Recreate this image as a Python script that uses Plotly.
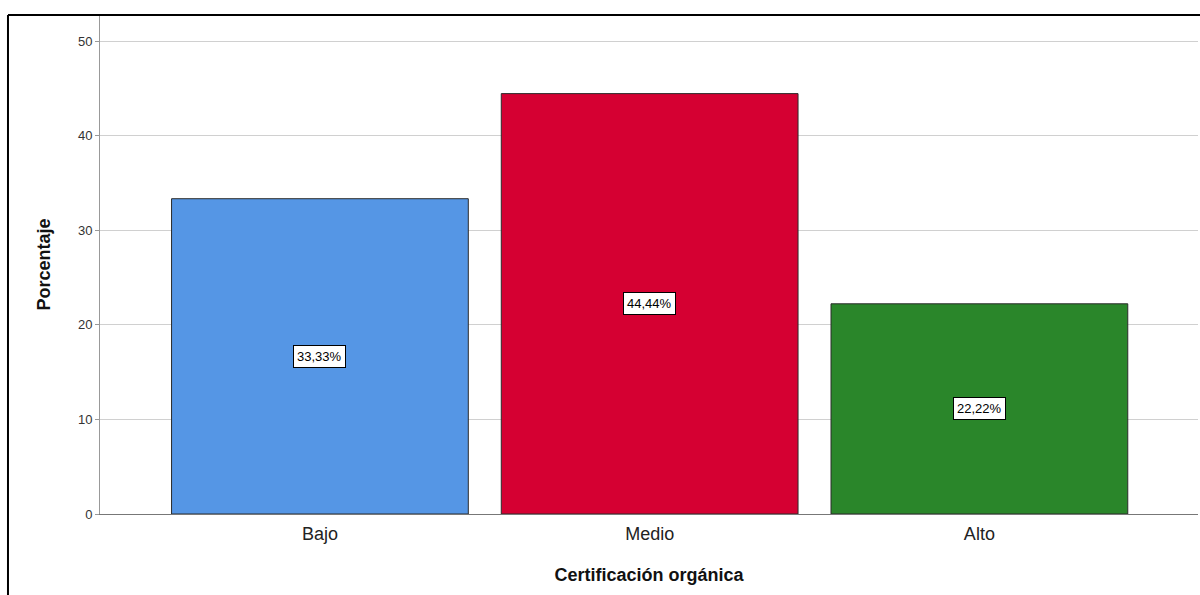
import plotly.graph_objects as go

categorias = ["Bajo", "Medio", "Alto"]
porcentajes = [33.33, 44.44, 22.22]
etiquetas = ["33,33%", "44,44%", "22,22%"]
colores = ["#5596E5", "#D50032", "#2A862A"]
ticks_y = [0, 10, 20, 30, 40, 50]

fig = go.Figure(go.Bar(
    x=categorias, y=porcentajes,
    width=0.9,
    marker=dict(color=colores, line=dict(color="#2b2b2b", width=1)),
    hoverinfo="x+y",
))

# etiquetas con recuadro blanco en el centro de cada barra
for cat, val, txt in zip(categorias, porcentajes, etiquetas):
    fig.add_annotation(
        x=cat, y=val / 2, text=txt, showarrow=False,
        font=dict(family="Arial, Liberation Sans", size=13, color="#000000"),
        bgcolor="white", bordercolor="#000000", borderwidth=1, borderpad=3,
    )

# marco exterior (estilo SPSS)
fig.add_shape(type="line", xref="paper", yref="paper",
              x0=-0.0838, x1=1.05, y0=1.0, y1=1.0,
              line=dict(color="#000000", width=2))
fig.add_shape(type="line", xref="paper", yref="paper",
              x0=-0.0838, x1=-0.0838, y0=-0.2, y1=1.0,
              line=dict(color="#000000", width=2))

fig.update_layout(
    width=1200, height=595,
    paper_bgcolor="white", plot_bgcolor="white",
    margin=dict(l=100, r=2, t=15, b=81),
    font=dict(family="Arial, Liberation Sans", color="#222222"),
    showlegend=False,
    xaxis=dict(
        range=[-0.667, 2.663],
        showgrid=False,
        showline=True, linecolor="#777777", linewidth=1,
        ticks="outside", ticklen=3, tickcolor="rgba(0,0,0,0)",
        tickfont=dict(size=18, color="#222222"),
        title=dict(text="<b>Certificación orgánica</b>", font=dict(size=18, color="#111111"), standoff=25),
    ),
    yaxis=dict(
        range=[0, 52.75],
        tickvals=ticks_y,
        showgrid=True, gridcolor="#d0d0d0", gridwidth=1,
        showline=True, linecolor="#999999", linewidth=1,
        ticks="outside", ticklen=4, tickcolor="#999999",
        tickfont=dict(size=13, color="#333333"),
        zeroline=False,
        title=dict(text="<b>Porcentaje</b>", font=dict(size=18, color="#111111"), standoff=22),
    ),
)

fig.write_html("out.html", config={"displayModeBar": False},
               post_script="document.body.style.margin='0';")
